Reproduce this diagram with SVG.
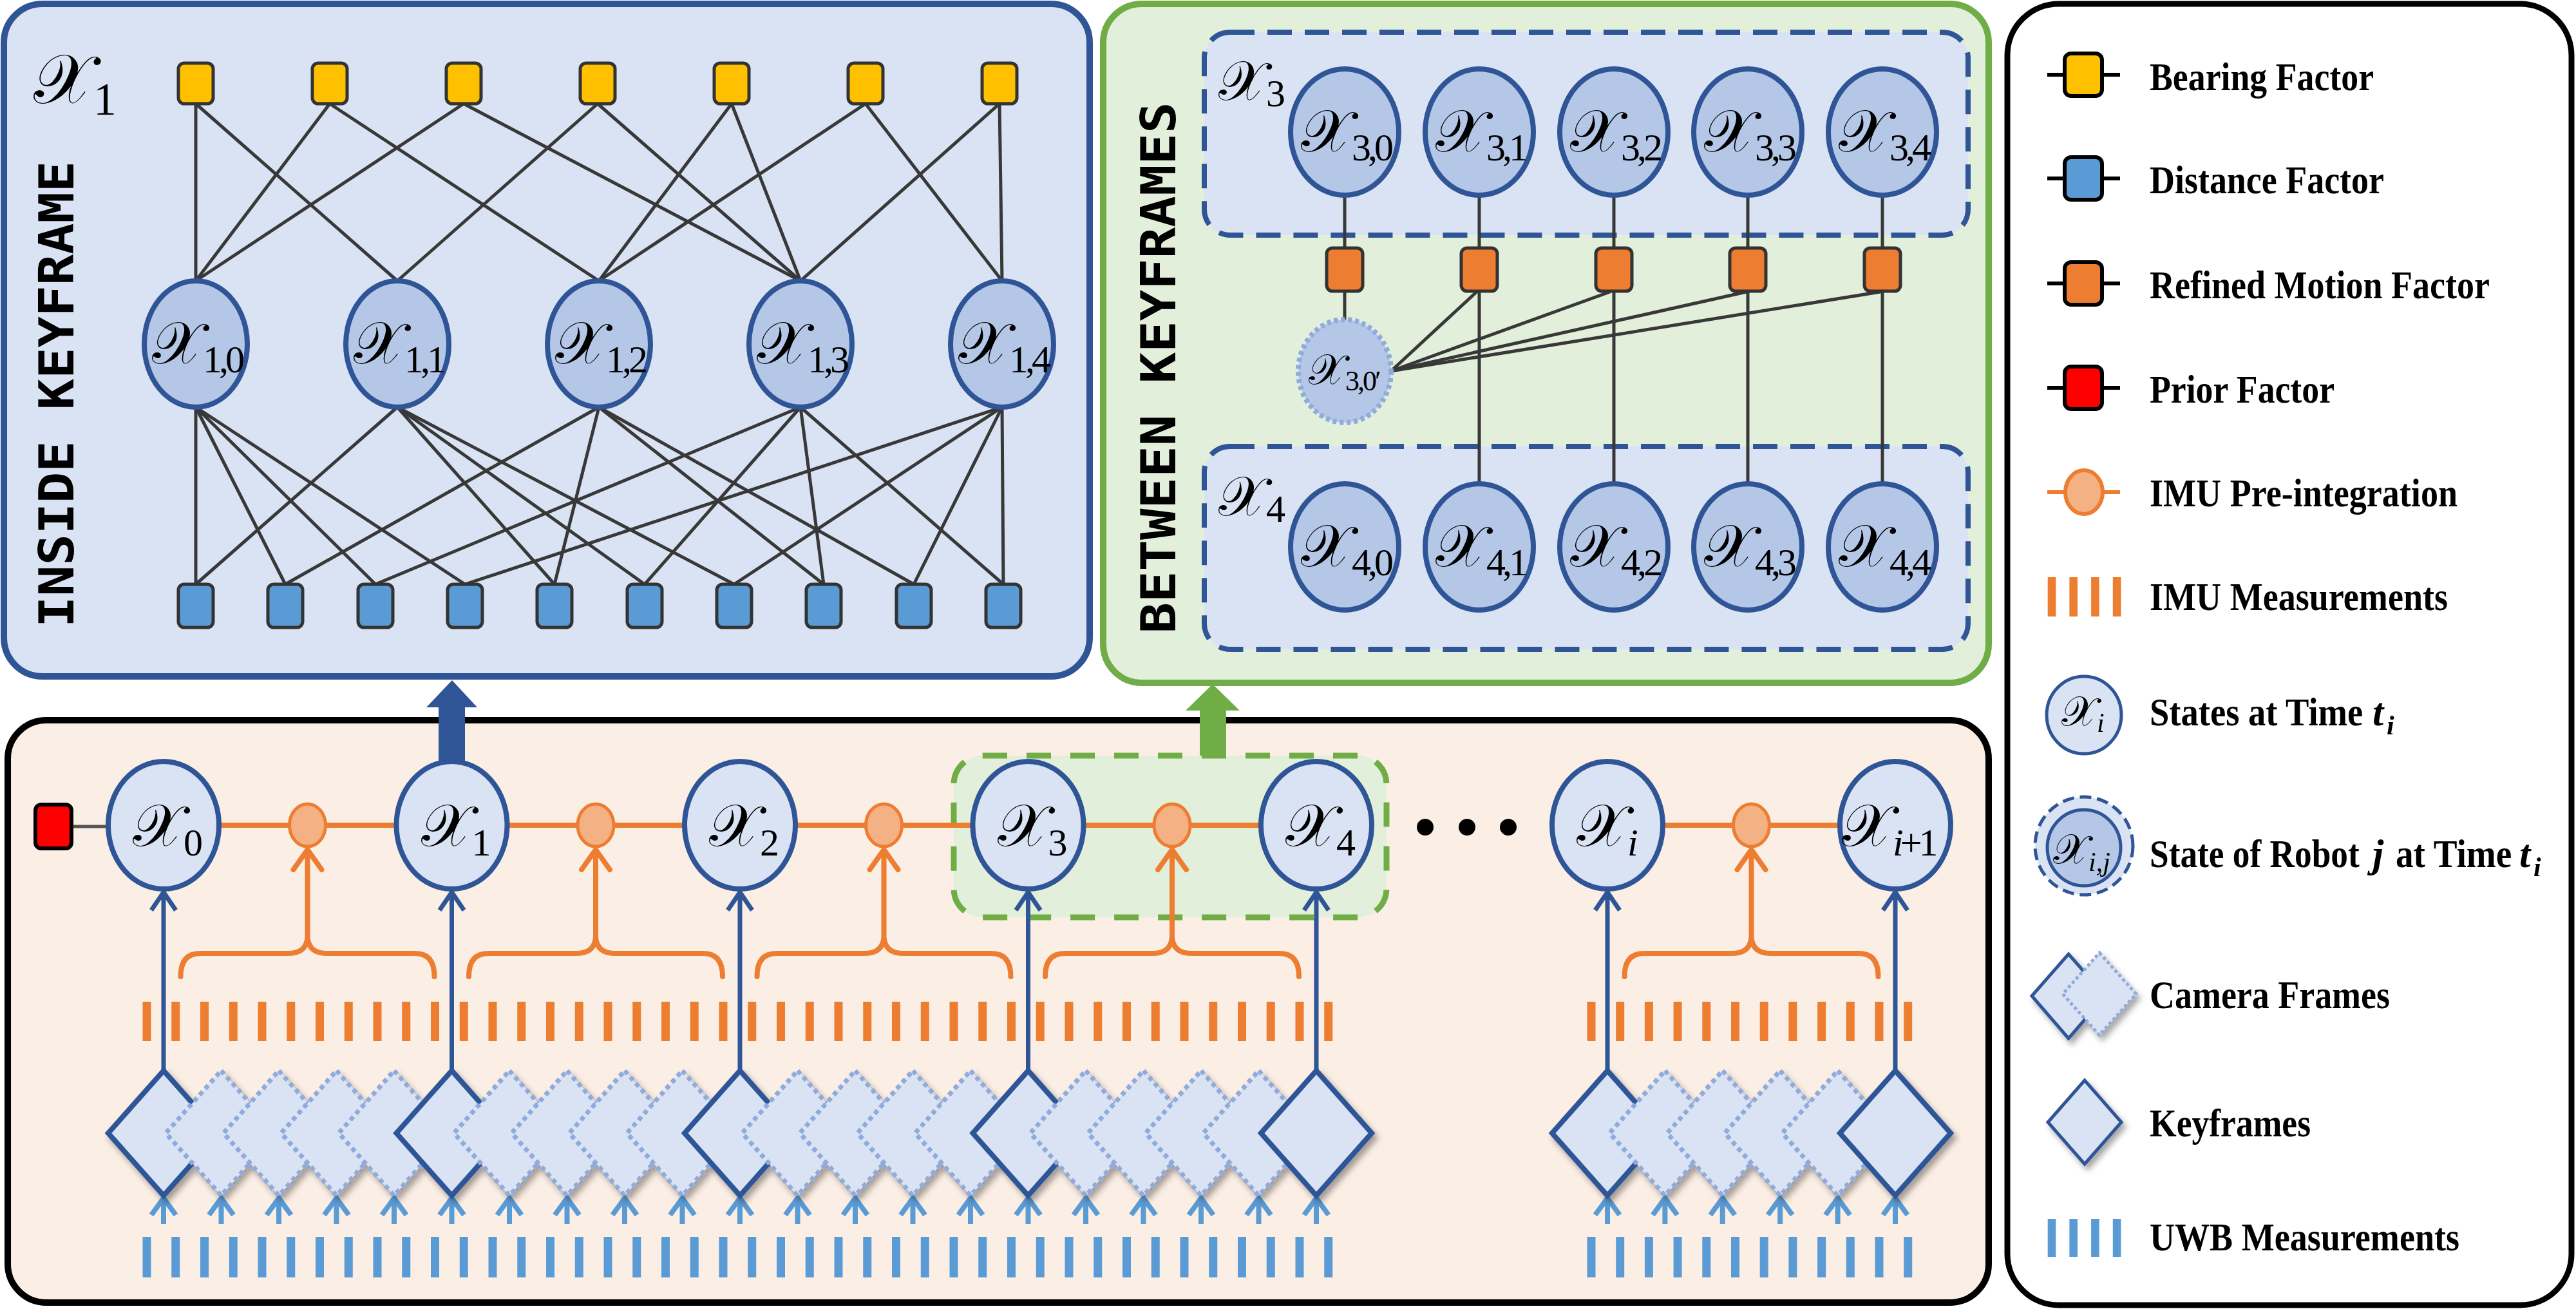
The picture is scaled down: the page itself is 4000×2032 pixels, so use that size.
<svg xmlns="http://www.w3.org/2000/svg" width="4000" height="2032" viewBox="0 0 4000 2032">
<style>
.edge{stroke:#383838;stroke-width:5;fill:none}
.bf{fill:#FFC000;stroke:#333;stroke-width:5}
.df{fill:#5B9BD5;stroke:#333;stroke-width:5}
.rf{fill:#ED7D31;stroke:#333;stroke-width:5}
.st{fill:#B4C7E7;stroke:#2F5597;stroke-width:8}
.stl{fill:#DAE3F3;stroke:#2F5597;stroke-width:8}
.mx{font-family:"DejaVu Serif","DejaVu Sans",serif;font-size:92px;fill:#000}
.sb{font-family:"Liberation Serif",serif;font-size:60px;letter-spacing:-5px}
.it{font-style:italic}
.rot{font-family:"DejaVu Sans Mono",monospace;font-weight:bold;font-size:74px;fill:#000}
.leg{font-family:"Liberation Serif",serif;font-weight:bold;font-size:62px;fill:#000}
.legi{font-family:"Liberation Serif",serif;font-weight:bold;font-style:italic;font-size:62px;fill:#000}
.kd{fill:#DAE3F3;stroke:#2F5597;stroke-width:8;stroke-linejoin:miter}
.nd{fill:#DAE3F3;stroke:#8FAADC;stroke-width:7;stroke-dasharray:7 6}
.barr{stroke:#2F5597;stroke-width:7;fill:none}
.uarr{stroke:#5B9BD5;stroke-width:8;fill:none}
.oarr{stroke:#ED7D31;stroke-width:8;fill:none;stroke-linecap:round}
.imu{fill:#F4B183;stroke:#ED7D31;stroke-width:5}
</style>
<defs>
<path id="dm" d="M0,-97 L86,0 L0,97 L-86,0 Z"/>
<filter id="sh" x="-30%" y="-30%" width="170%" height="170%"><feDropShadow dx="5" dy="7" stdDeviation="5" flood-color="#000" flood-opacity="0.35"/></filter>
</defs>

<!-- Panel 1: inside keyframe -->
<g id="panel-inside">
<rect x="6" y="6" width="1686" height="1044" rx="60" fill="#DAE3F3" stroke="#2F5597" stroke-width="10"/>
<text class="rot" transform="translate(114,612) rotate(-90)" text-anchor="middle" textLength="724" lengthAdjust="spacingAndGlyphs">INSIDE KEYFRAME</text>
<text class="mx" x="52" y="160" style="font-size:108px">𝒳<tspan class="sb" dy="18" style="font-size:72px">1</tspan></text>
</g>
<g id="edges-inside">
<line class="edge" x1="304" y1="161" x2="304" y2="436"/>
<line class="edge" x1="304" y1="161" x2="617" y2="436"/>
<line class="edge" x1="512" y1="161" x2="304" y2="436"/>
<line class="edge" x1="512" y1="161" x2="930" y2="436"/>
<line class="edge" x1="720" y1="161" x2="304" y2="436"/>
<line class="edge" x1="720" y1="161" x2="1243" y2="436"/>
<line class="edge" x1="928" y1="161" x2="617" y2="436"/>
<line class="edge" x1="928" y1="161" x2="1243" y2="436"/>
<line class="edge" x1="1136" y1="161" x2="930" y2="436"/>
<line class="edge" x1="1136" y1="161" x2="1243" y2="436"/>
<line class="edge" x1="1344" y1="161" x2="930" y2="436"/>
<line class="edge" x1="1344" y1="161" x2="1556" y2="436"/>
<line class="edge" x1="1552" y1="161" x2="1243" y2="436"/>
<line class="edge" x1="1552" y1="161" x2="1556" y2="436"/>
<line class="edge" x1="304" y1="632" x2="304" y2="907"/>
<line class="edge" x1="304" y1="632" x2="443" y2="907"/>
<line class="edge" x1="304" y1="632" x2="583" y2="907"/>
<line class="edge" x1="304" y1="632" x2="722" y2="907"/>
<line class="edge" x1="617" y1="632" x2="304" y2="907"/>
<line class="edge" x1="617" y1="632" x2="861" y2="907"/>
<line class="edge" x1="617" y1="632" x2="1001" y2="907"/>
<line class="edge" x1="617" y1="632" x2="1140" y2="907"/>
<line class="edge" x1="930" y1="632" x2="443" y2="907"/>
<line class="edge" x1="930" y1="632" x2="861" y2="907"/>
<line class="edge" x1="930" y1="632" x2="1279" y2="907"/>
<line class="edge" x1="930" y1="632" x2="1419" y2="907"/>
<line class="edge" x1="1243" y1="632" x2="583" y2="907"/>
<line class="edge" x1="1243" y1="632" x2="1001" y2="907"/>
<line class="edge" x1="1243" y1="632" x2="1279" y2="907"/>
<line class="edge" x1="1243" y1="632" x2="1558" y2="907"/>
<line class="edge" x1="1556" y1="632" x2="722" y2="907"/>
<line class="edge" x1="1556" y1="632" x2="1140" y2="907"/>
<line class="edge" x1="1556" y1="632" x2="1419" y2="907"/>
<line class="edge" x1="1556" y1="632" x2="1558" y2="907"/>
</g>
<g id="bearing-factors">
<rect id="b0" class="bf" x="277" y="98" width="54" height="63" rx="9"/>
<rect id="b1" class="bf" x="485" y="98" width="54" height="63" rx="9"/>
<rect id="b2" class="bf" x="693" y="98" width="54" height="63" rx="9"/>
<rect id="b3" class="bf" x="901" y="98" width="54" height="63" rx="9"/>
<rect id="b4" class="bf" x="1109" y="98" width="54" height="63" rx="9"/>
<rect id="b5" class="bf" x="1317" y="98" width="54" height="63" rx="9"/>
<rect id="b6" class="bf" x="1525" y="98" width="54" height="63" rx="9"/>
</g>
<g id="distance-factors">
<rect id="d0" class="df" x="277" y="907" width="54" height="67" rx="9"/>
<rect id="d1" class="df" x="416" y="907" width="54" height="67" rx="9"/>
<rect id="d2" class="df" x="556" y="907" width="54" height="67" rx="9"/>
<rect id="d3" class="df" x="695" y="907" width="54" height="67" rx="9"/>
<rect id="d4" class="df" x="834" y="907" width="54" height="67" rx="9"/>
<rect id="d5" class="df" x="974" y="907" width="54" height="67" rx="9"/>
<rect id="d6" class="df" x="1113" y="907" width="54" height="67" rx="9"/>
<rect id="d7" class="df" x="1252" y="907" width="54" height="67" rx="9"/>
<rect id="d8" class="df" x="1392" y="907" width="54" height="67" rx="9"/>
<rect id="d9" class="df" x="1531" y="907" width="54" height="67" rx="9"/>
</g>
<g id="x10"><ellipse class="st" cx="304" cy="534" rx="80" ry="98"/><text class="mx" x="236" y="564">𝒳<tspan class="sb" dy="14">1,0</tspan></text></g>
<g id="x11"><ellipse class="st" cx="617" cy="534" rx="80" ry="98"/><text class="mx" x="549" y="564">𝒳<tspan class="sb" dy="14">1,1</tspan></text></g>
<g id="x12"><ellipse class="st" cx="930" cy="534" rx="80" ry="98"/><text class="mx" x="862" y="564">𝒳<tspan class="sb" dy="14">1,2</tspan></text></g>
<g id="x13"><ellipse class="st" cx="1243" cy="534" rx="80" ry="98"/><text class="mx" x="1175" y="564">𝒳<tspan class="sb" dy="14">1,3</tspan></text></g>
<g id="x14"><ellipse class="st" cx="1556" cy="534" rx="80" ry="98"/><text class="mx" x="1488" y="564">𝒳<tspan class="sb" dy="14">1,4</tspan></text></g>

<!-- Panel 2: between keyframes -->
<g id="panel-between">
<rect x="1713" y="6" width="1375" height="1054" rx="60" fill="#E2EFDA" stroke="#70AD47" stroke-width="10"/>
<rect x="1870" y="50" width="1186" height="315" rx="40" fill="#DAE3F3" stroke="#2F5597" stroke-width="8" stroke-dasharray="38 20"/>
<rect x="1870" y="693" width="1186" height="315" rx="40" fill="#DAE3F3" stroke="#2F5597" stroke-width="8" stroke-dasharray="38 20"/>
<text class="rot" transform="translate(1825,571) rotate(-90)" text-anchor="middle" textLength="825" lengthAdjust="spacingAndGlyphs">BETWEEN KEYFRAMES</text>
<text class="mx" x="1892" y="155" style="font-size:86px">𝒳<tspan class="sb" dy="10">3</tspan></text>
<text class="mx" x="1892" y="800" style="font-size:86px">𝒳<tspan class="sb" dy="10">4</tspan></text>
</g>
<g id="edges-between">
<line class="edge" x1="2088" y1="303" x2="2088" y2="385"/>
<line class="edge" x1="2297" y1="303" x2="2297" y2="385"/>
<line class="edge" x1="2506" y1="303" x2="2506" y2="385"/>
<line class="edge" x1="2714" y1="303" x2="2714" y2="385"/>
<line class="edge" x1="2923" y1="303" x2="2923" y2="385"/>
<line class="edge" x1="2088" y1="452" x2="2088" y2="496"/>
<line class="edge" x1="2297" y1="452" x2="2297" y2="751"/>
<line class="edge" x1="2506" y1="452" x2="2506" y2="751"/>
<line class="edge" x1="2714" y1="452" x2="2714" y2="751"/>
<line class="edge" x1="2923" y1="452" x2="2923" y2="751"/>
<line class="edge" x1="2294" y1="452" x2="2160" y2="576"/>
<line class="edge" x1="2500" y1="453" x2="2160" y2="576"/>
<line class="edge" x1="2712" y1="453" x2="2160" y2="576"/>
<line class="edge" x1="2920" y1="453" x2="2160" y2="576"/>
</g>
<g id="x30"><ellipse class="st" cx="2088" cy="205" rx="84" ry="98"/><text class="mx" x="2020" y="235">𝒳<tspan class="sb" dy="14">3,0</tspan></text></g>
<g id="x31"><ellipse class="st" cx="2297" cy="205" rx="84" ry="98"/><text class="mx" x="2229" y="235">𝒳<tspan class="sb" dy="14">3,1</tspan></text></g>
<g id="x32"><ellipse class="st" cx="2506" cy="205" rx="84" ry="98"/><text class="mx" x="2438" y="235">𝒳<tspan class="sb" dy="14">3,2</tspan></text></g>
<g id="x33"><ellipse class="st" cx="2714" cy="205" rx="84" ry="98"/><text class="mx" x="2646" y="235">𝒳<tspan class="sb" dy="14">3,3</tspan></text></g>
<g id="x34"><ellipse class="st" cx="2923" cy="205" rx="84" ry="98"/><text class="mx" x="2855" y="235">𝒳<tspan class="sb" dy="14">3,4</tspan></text></g>
<g id="motion-factors">
<rect id="m0" class="rf" x="2060" y="385" width="56" height="67" rx="9"/>
<rect id="m1" class="rf" x="2269" y="385" width="56" height="67" rx="9"/>
<rect id="m2" class="rf" x="2478" y="385" width="56" height="67" rx="9"/>
<rect id="m3" class="rf" x="2686" y="385" width="56" height="67" rx="9"/>
<rect id="m4" class="rf" x="2895" y="385" width="56" height="67" rx="9"/>
</g>
<g id="x30p"><ellipse cx="2088" cy="576" rx="72" ry="80" fill="#B4C7E7" stroke="#8FAADC" stroke-width="8" stroke-dasharray="6 5"/><text class="mx" x="2032" y="596" style="font-size:66px">𝒳<tspan class="sb" dy="10" style="font-size:44px;letter-spacing:-3px">3,0′</tspan></text></g>
<g id="x40"><ellipse class="st" cx="2088" cy="849" rx="84" ry="98"/><text class="mx" x="2020" y="879">𝒳<tspan class="sb" dy="14">4,0</tspan></text></g>
<g id="x41"><ellipse class="st" cx="2297" cy="849" rx="84" ry="98"/><text class="mx" x="2229" y="879">𝒳<tspan class="sb" dy="14">4,1</tspan></text></g>
<g id="x42"><ellipse class="st" cx="2506" cy="849" rx="84" ry="98"/><text class="mx" x="2438" y="879">𝒳<tspan class="sb" dy="14">4,2</tspan></text></g>
<g id="x43"><ellipse class="st" cx="2714" cy="849" rx="84" ry="98"/><text class="mx" x="2646" y="879">𝒳<tspan class="sb" dy="14">4,3</tspan></text></g>
<g id="x44"><ellipse class="st" cx="2923" cy="849" rx="84" ry="98"/><text class="mx" x="2855" y="879">𝒳<tspan class="sb" dy="14">4,4</tspan></text></g>

<!-- Bottom panel: timeline -->
<g id="panel-timeline">
<rect x="12" y="1118" width="3076" height="904" rx="60" fill="#FBEEE4" stroke="#000" stroke-width="10"/>
<rect x="1481" y="1173" width="672" height="251" rx="45" fill="#E2EFDA" stroke="#70AD47" stroke-width="9" stroke-dasharray="38 30"/>
</g>
<g id="big-arrows">
<polygon points="681,1190 681,1098 662,1098 702,1056 741,1098 722,1098 722,1190" fill="#2F5597"/>
<polygon points="1863,1173 1863,1103 1841,1103 1883,1062 1925,1103 1904,1103 1904,1173" fill="#70AD47"/>
</g>
<g id="connectors-timeline">
<line x1="111" y1="1283" x2="168" y2="1283" stroke="#555" stroke-width="5"/>
<line x1="254" y1="1281" x2="2044" y2="1281" stroke="#ED7D31" stroke-width="8"/>
<line x1="2496" y1="1281" x2="2943" y2="1281" stroke="#ED7D31" stroke-width="8"/>
<path class="oarr" d="M280.5,1516 Q280.5,1480 310.5,1480 L447.5,1480 Q475.5,1480 477.5,1455 Q479.5,1480 507.5,1480 L644.5,1480 Q674.5,1480 674.5,1516 M477.5,1457 L477.5,1320 M455.5,1350 L477.5,1319 L499.5,1350"/>
<path class="oarr" d="M728,1516 Q728,1480 758,1480 L895,1480 Q923,1480 925,1455 Q927,1480 955,1480 L1092,1480 Q1122,1480 1122,1516 M925,1457 L925,1320 M903,1350 L925,1319 L947,1350"/>
<path class="oarr" d="M1175.5,1516 Q1175.5,1480 1205.5,1480 L1342.5,1480 Q1370.5,1480 1372.5,1455 Q1374.5,1480 1402.5,1480 L1539.5,1480 Q1569.5,1480 1569.5,1516 M1372.5,1457 L1372.5,1320 M1350.5,1350 L1372.5,1319 L1394.5,1350"/>
<path class="oarr" d="M1623,1516 Q1623,1480 1653,1480 L1790,1480 Q1818,1480 1820,1455 Q1822,1480 1850,1480 L1987,1480 Q2017,1480 2017,1516 M1820,1457 L1820,1320 M1798,1350 L1820,1319 L1842,1350"/>
<path class="oarr" d="M2522.5,1516 Q2522.5,1480 2552.5,1480 L2689.5,1480 Q2717.5,1480 2719.5,1455 Q2721.5,1480 2749.5,1480 L2886.5,1480 Q2916.5,1480 2916.5,1516 M2719.5,1457 L2719.5,1320 M2697.5,1350 L2719.5,1319 L2741.5,1350"/>
<path class="barr" d="M254,1662 L254,1386 M235,1413 L254,1385 L273,1413"/>
<path class="barr" d="M701.5,1662 L701.5,1386 M682.5,1413 L701.5,1385 L720.5,1413"/>
<path class="barr" d="M1149,1662 L1149,1386 M1130,1413 L1149,1385 L1168,1413"/>
<path class="barr" d="M1596.5,1662 L1596.5,1386 M1577.5,1413 L1596.5,1385 L1615.5,1413"/>
<path class="barr" d="M2044,1662 L2044,1386 M2025,1413 L2044,1385 L2063,1413"/>
<path class="barr" d="M2496,1662 L2496,1386 M2477,1413 L2496,1385 L2515,1413"/>
<path class="barr" d="M2943,1662 L2943,1386 M2924,1413 L2943,1385 L2962,1413"/>
</g>
<g id="imu-measurements">
<line x1="221.5" y1="1585.5" x2="2069.25" y2="1585.5" stroke="#ED7D31" stroke-width="61" stroke-dasharray="13 31.75"/>
<line x1="2464.5" y1="1585.5" x2="2969.2" y2="1585.5" stroke="#ED7D31" stroke-width="61" stroke-dasharray="13 31.7"/>
</g>
<g id="uwb-measurements">
<line x1="221.5" y1="1951.5" x2="2069.25" y2="1951.5" stroke="#5B9BD5" stroke-width="63" stroke-dasharray="13 31.75"/>
<line x1="2464.5" y1="1951.5" x2="2969.2" y2="1951.5" stroke="#5B9BD5" stroke-width="63" stroke-dasharray="13 31.7"/>
</g>
<g id="uwb-arrows" class="uarr">
<path d="M254,1900 L254,1862 M235,1886 L254,1860 L273,1886"/>
<path d="M343.5,1900 L343.5,1862 M324.5,1886 L343.5,1860 L362.5,1886"/>
<path d="M433,1900 L433,1862 M414,1886 L433,1860 L452,1886"/>
<path d="M522.5,1900 L522.5,1862 M503.5,1886 L522.5,1860 L541.5,1886"/>
<path d="M612,1900 L612,1862 M593,1886 L612,1860 L631,1886"/>
<path d="M701.5,1900 L701.5,1862 M682.5,1886 L701.5,1860 L720.5,1886"/>
<path d="M791,1900 L791,1862 M772,1886 L791,1860 L810,1886"/>
<path d="M880.5,1900 L880.5,1862 M861.5,1886 L880.5,1860 L899.5,1886"/>
<path d="M970,1900 L970,1862 M951,1886 L970,1860 L989,1886"/>
<path d="M1059.5,1900 L1059.5,1862 M1040.5,1886 L1059.5,1860 L1078.5,1886"/>
<path d="M1149,1900 L1149,1862 M1130,1886 L1149,1860 L1168,1886"/>
<path d="M1238.5,1900 L1238.5,1862 M1219.5,1886 L1238.5,1860 L1257.5,1886"/>
<path d="M1328,1900 L1328,1862 M1309,1886 L1328,1860 L1347,1886"/>
<path d="M1417.5,1900 L1417.5,1862 M1398.5,1886 L1417.5,1860 L1436.5,1886"/>
<path d="M1507,1900 L1507,1862 M1488,1886 L1507,1860 L1526,1886"/>
<path d="M1596.5,1900 L1596.5,1862 M1577.5,1886 L1596.5,1860 L1615.5,1886"/>
<path d="M1686,1900 L1686,1862 M1667,1886 L1686,1860 L1705,1886"/>
<path d="M1775.5,1900 L1775.5,1862 M1756.5,1886 L1775.5,1860 L1794.5,1886"/>
<path d="M1865,1900 L1865,1862 M1846,1886 L1865,1860 L1884,1886"/>
<path d="M1954.5,1900 L1954.5,1862 M1935.5,1886 L1954.5,1860 L1973.5,1886"/>
<path d="M2044,1900 L2044,1862 M2025,1886 L2044,1860 L2063,1886"/>
<path d="M2496,1900 L2496,1862 M2477,1886 L2496,1860 L2515,1886"/>
<path d="M2585.4,1900 L2585.4,1862 M2566.4,1886 L2585.4,1860 L2604.4,1886"/>
<path d="M2674.8,1900 L2674.8,1862 M2655.8,1886 L2674.8,1860 L2693.8,1886"/>
<path d="M2764.2,1900 L2764.2,1862 M2745.2,1886 L2764.2,1860 L2783.2,1886"/>
<path d="M2853.6,1900 L2853.6,1862 M2834.6,1886 L2853.6,1860 L2872.6,1886"/>
<path d="M2943,1900 L2943,1862 M2924,1886 L2943,1860 L2962,1886"/>
</g>
<g id="camera-frames" filter="url(#sh)">
<use href="#dm" x="254" y="1759" class="kd"/>
<use href="#dm" x="343.5" y="1759" class="nd"/>
<use href="#dm" x="433" y="1759" class="nd"/>
<use href="#dm" x="522.5" y="1759" class="nd"/>
<use href="#dm" x="612" y="1759" class="nd"/>
<use href="#dm" x="701.5" y="1759" class="kd"/>
<use href="#dm" x="791" y="1759" class="nd"/>
<use href="#dm" x="880.5" y="1759" class="nd"/>
<use href="#dm" x="970" y="1759" class="nd"/>
<use href="#dm" x="1059.5" y="1759" class="nd"/>
<use href="#dm" x="1149" y="1759" class="kd"/>
<use href="#dm" x="1238.5" y="1759" class="nd"/>
<use href="#dm" x="1328" y="1759" class="nd"/>
<use href="#dm" x="1417.5" y="1759" class="nd"/>
<use href="#dm" x="1507" y="1759" class="nd"/>
<use href="#dm" x="1596.5" y="1759" class="kd"/>
<use href="#dm" x="1686" y="1759" class="nd"/>
<use href="#dm" x="1775.5" y="1759" class="nd"/>
<use href="#dm" x="1865" y="1759" class="nd"/>
<use href="#dm" x="1954.5" y="1759" class="nd"/>
<use href="#dm" x="2044" y="1759" class="kd"/>
<use href="#dm" x="2496" y="1759" class="kd"/>
<use href="#dm" x="2585.4" y="1759" class="nd"/>
<use href="#dm" x="2674.8" y="1759" class="nd"/>
<use href="#dm" x="2764.2" y="1759" class="nd"/>
<use href="#dm" x="2853.6" y="1759" class="nd"/>
<use href="#dm" x="2943" y="1759" class="kd"/>
</g>
<g id="prior"><rect x="55" y="1249" width="56" height="68" rx="9" fill="#FF0000" stroke="#000" stroke-width="6"/></g>
<g id="imu-preint">
<ellipse class="imu" cx="477.5" cy="1281" rx="28" ry="33"/>
<ellipse class="imu" cx="925" cy="1281" rx="28" ry="33"/>
<ellipse class="imu" cx="1372.5" cy="1281" rx="28" ry="33"/>
<ellipse class="imu" cx="1820" cy="1281" rx="28" ry="33"/>
<ellipse class="imu" cx="2719.5" cy="1281" rx="28" ry="33"/>
</g>
<g id="s0"><ellipse class="stl" cx="254" cy="1281" rx="86" ry="99"/><text class="mx" x="206" y="1313">𝒳<tspan class="sb" dy="15">0</tspan></text></g>
<g id="s1"><ellipse class="stl" cx="701.5" cy="1281" rx="86" ry="99"/><text class="mx" x="653.5" y="1313">𝒳<tspan class="sb" dy="15">1</tspan></text></g>
<g id="s2"><ellipse class="stl" cx="1149" cy="1281" rx="86" ry="99"/><text class="mx" x="1101" y="1313">𝒳<tspan class="sb" dy="15">2</tspan></text></g>
<g id="s3"><ellipse class="stl" cx="1596.5" cy="1281" rx="86" ry="99"/><text class="mx" x="1548.5" y="1313">𝒳<tspan class="sb" dy="15">3</tspan></text></g>
<g id="s4"><ellipse class="stl" cx="2044" cy="1281" rx="86" ry="99"/><text class="mx" x="1996" y="1313">𝒳<tspan class="sb" dy="15">4</tspan></text></g>
<g id="dots"><circle cx="2213" cy="1284" r="13"/><circle cx="2278" cy="1284" r="13"/><circle cx="2342" cy="1284" r="13"/></g>
<g id="si"><ellipse class="stl" cx="2496" cy="1281" rx="86" ry="99"/><text class="mx" x="2448" y="1313">𝒳<tspan class="sb it" dy="15">i</tspan></text></g>
<g id="si1"><ellipse class="stl" cx="2943" cy="1281" rx="86" ry="99"/><text class="mx" x="2860" y="1313">𝒳<tspan class="sb" dy="15"><tspan class="it">i</tspan>+1</tspan></text></g>

<!-- Legend -->
<g id="legend">
<rect x="3117" y="6" width="876" height="2020" rx="80" fill="#FFFFFF" stroke="#000" stroke-width="9"/>
<g id="leg-bearing"><line x1="3179" y1="116" x2="3292" y2="116" stroke="#000" stroke-width="6"/><rect x="3206" y="83" width="58" height="66" rx="10" fill="#FFC000" stroke="#000" stroke-width="6"/><text class="leg" x="3338" y="140" textLength="348" lengthAdjust="spacingAndGlyphs">Bearing Factor</text></g>
<g id="leg-distance"><line x1="3179" y1="277" x2="3292" y2="277" stroke="#000" stroke-width="6"/><rect x="3206" y="244" width="58" height="66" rx="10" fill="#5B9BD5" stroke="#000" stroke-width="6"/><text class="leg" x="3338" y="300" textLength="364" lengthAdjust="spacingAndGlyphs">Distance Factor</text></g>
<g id="leg-motion"><line x1="3179" y1="440" x2="3292" y2="440" stroke="#000" stroke-width="6"/><rect x="3206" y="407" width="58" height="66" rx="10" fill="#ED7D31" stroke="#000" stroke-width="6"/><text class="leg" x="3338" y="463" textLength="528" lengthAdjust="spacingAndGlyphs">Refined Motion Factor</text></g>
<g id="leg-prior"><line x1="3179" y1="602" x2="3292" y2="602" stroke="#000" stroke-width="6"/><rect x="3206" y="569" width="58" height="66" rx="10" fill="#FF0000" stroke="#000" stroke-width="6"/><text class="leg" x="3338" y="625" textLength="287" lengthAdjust="spacingAndGlyphs">Prior Factor</text></g>
<g id="leg-imupre"><line x1="3179" y1="764" x2="3292" y2="764" stroke="#ED7D31" stroke-width="6"/><ellipse cx="3236" cy="764" rx="29" ry="34" fill="#F4B183" stroke="#ED7D31" stroke-width="6"/><text class="leg" x="3338" y="786" textLength="478" lengthAdjust="spacingAndGlyphs">IMU Pre-integration</text></g>
<g id="leg-imu"><line x1="3179.7" y1="926.5" x2="3293.4" y2="926.5" stroke="#ED7D31" stroke-width="61" stroke-dasharray="12.6 21.1"/><text class="leg" x="3338" y="947" textLength="463" lengthAdjust="spacingAndGlyphs">IMU Measurements</text></g>
<g id="leg-state"><ellipse cx="3236" cy="1110" rx="58" ry="60" fill="#DAE3F3" stroke="#2F5597" stroke-width="5"/><text class="mx" x="3201" y="1126" style="font-size:64px">𝒳<tspan class="sb it" dy="10" style="font-size:42px">i</tspan></text>
<text class="leg" transform="translate(3338,1126) scale(0.88,1)">States at Time</text>
<text class="legi" x="3684" y="1126">t</text>
<text class="legi" x="3706" y="1140" style="font-size:42px">i</text></g>
<g id="leg-robot"><circle cx="3236" cy="1313" r="76" fill="#DAE3F3" stroke="#2F5597" stroke-width="5" stroke-dasharray="18 9"/><ellipse cx="3236" cy="1316" rx="57" ry="59" fill="#B4C7E7" stroke="#2F5597" stroke-width="5"/><text class="mx" x="3188" y="1340" style="font-size:64px">𝒳<tspan class="sb it" dy="12" style="font-size:42px;letter-spacing:0">i,j</tspan></text>
<text class="leg" transform="translate(3338,1346) scale(0.86,1)">State of Robot</text>
<text class="legi" x="3684" y="1346">j</text>
<text class="leg" transform="translate(3720,1346) scale(0.89,1)">at Time</text>
<text class="legi" x="3912" y="1346">t</text>
<text class="legi" x="3934" y="1360" style="font-size:42px">i</text></g>
<g id="leg-camera" filter="url(#sh)"><path d="M3212,1481 L3269,1546 L3212,1612 L3155,1546 Z" fill="#DAE3F3" stroke="#2F5597" stroke-width="5"/><path d="M3260,1479 L3317,1543 L3260,1607 L3203,1543 Z" fill="#DAE3F3" stroke="#8FAADC" stroke-width="5" stroke-dasharray="5 4"/></g>
<text class="leg" x="3338" y="1565" textLength="373" lengthAdjust="spacingAndGlyphs">Camera Frames</text>
<g id="leg-keyframe" filter="url(#sh)"><path d="M3237,1677 L3294,1742 L3237,1807 L3180,1742 Z" fill="#DAE3F3" stroke="#2F5597" stroke-width="5"/></g>
<text class="leg" x="3338" y="1764" textLength="250" lengthAdjust="spacingAndGlyphs">Keyframes</text>
<g id="leg-uwb"><line x1="3179.7" y1="1921.5" x2="3293.4" y2="1921.5" stroke="#5B9BD5" stroke-width="59" stroke-dasharray="12.6 21.1"/><text class="leg" x="3338" y="1941" textLength="481" lengthAdjust="spacingAndGlyphs">UWB Measurements</text></g>
</g>
</svg>
